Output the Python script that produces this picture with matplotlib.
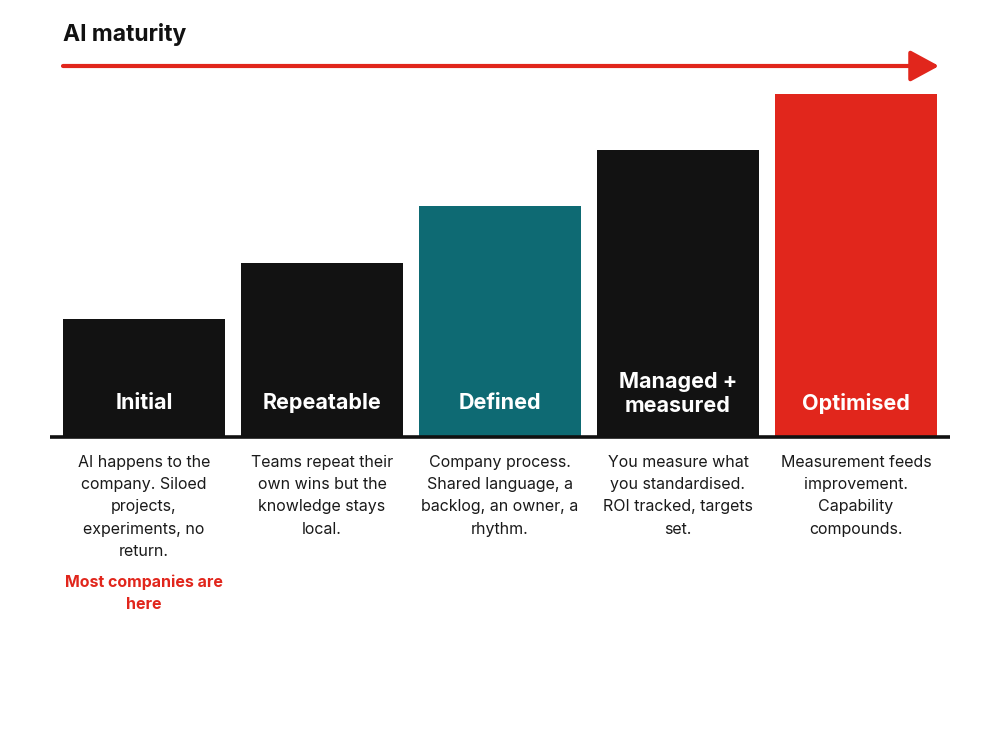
import matplotlib
matplotlib.use("Agg")
import matplotlib.pyplot as plt

# maturity stages, left to right
stages = ["Initial", "Repeatable", "Defined", "Managed +\nmeasured", "Optimised"]
levels = [2.1, 3.1, 4.1, 5.1, 6.1]
descriptions = [
    "AI happens to the\ncompany. Siloed\nprojects,\nexperiments, no\nreturn.",
    "Teams repeat their\nown wins but the\nknowledge stays\nlocal.",
    "Company process.\nShared language, a\nbacklog, an owner, a\nrhythm.",
    "You measure what\nyou standardised.\nROI tracked, targets\nset.",
    "Measurement feeds\nimprovement.\nCapability\ncompounds.",
]
bar_colors = ["#121212", "#121212", "#0E6A73", "#121212", "#E1261C"]
title = "AI maturity"
note = "Most companies are\nhere"

RED = "#E1261C"
W, H = 1000, 750

fig = plt.figure(figsize=(10, 7.5), dpi=100)
fig.patch.set_facecolor("white")

# bar axes: baseline at y=437px, tallest bar top at 94px
base_px, top_px = 437, 94
ax = fig.add_axes([0, (H - base_px) / H, 1, (base_px - top_px) / H])
ax.set_ylim(0, max(levels))
ax.set_xlim(-0.809, 4.809)
ax.axis("off")

x = list(range(len(stages)))
ax.bar(x, levels, width=0.91, color=bar_colors, align="center")
ax.plot([-0.528, 4.528], [0, 0], color="#111111", lw=2.6, clip_on=False,
        solid_capstyle="butt")

px_per_unit = (base_px - top_px) / max(levels)
for i, s in enumerate(stages):
    n = s.count("\n") + 1
    y = (base_px - (403 if n == 1 else 394)) / px_per_unit
    ax.text(i, y, s, ha="center", va="center", color="white",
            fontsize=15.5, fontweight="bold", family="Inter", linespacing=1.25)

# descriptions under bars
for i, d in enumerate(descriptions):
    cx = (144 + 178 * i) / W
    fig.text(cx, 1 - 455 / H, d, ha="center", va="top", fontsize=11.5,
             family="Inter", color="#1a1a1a", linespacing=1.6)

fig.text(144 / W, 1 - 574 / H, note, ha="center", va="top", fontsize=11.5,
         family="Inter", fontweight="bold", color=RED, linespacing=1.6)

# title + arrow
fig.text(63 / W, 1 - 35 / H, title, ha="left", va="center", fontsize=16.5,
         fontweight="bold", family="Inter", color="#111111")
ax.annotate("", xy=(939, H - 66), xytext=(63, H - 66),
            xycoords="figure pixels", textcoords="figure pixels",
            arrowprops=dict(arrowstyle="-|>,head_length=1.75,head_width=0.95",
                            color=RED, lw=3, shrinkA=0, shrinkB=0,
                            mutation_scale=10))

fig.savefig("out.png", dpi=100, facecolor="white")
